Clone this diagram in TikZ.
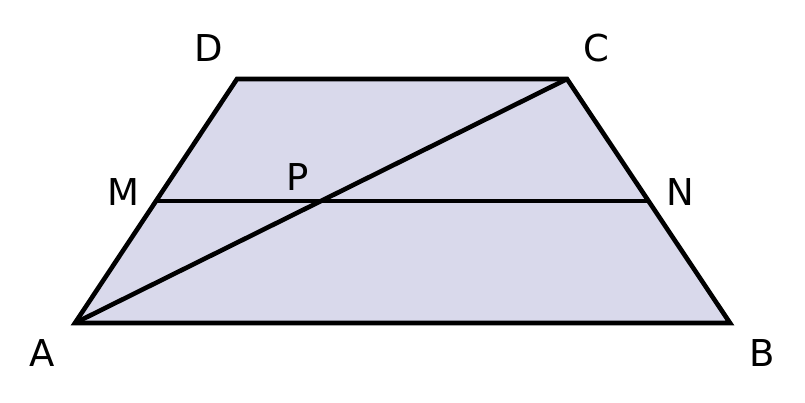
\documentclass[tikz,border=0pt]{standalone}
\usepackage{fontspec}
\setmainfont{DejaVu Sans}
\usetikzlibrary{calc}
\definecolor{trapfill}{RGB}{217,217,235}
\tikzstyle{edge} = [line width=4.6pt, draw=black, line join=miter]
\tikzstyle{lbl} = [font=\fontsize{37}{44}\selectfont, inner sep=0pt]

\begin{document}
\begin{tikzpicture}[x=1pt, y=-1pt]
			\useasboundingbox (0,0) rectangle (805,403);
			\coordinate (A) at (75,323);
			\coordinate (B) at (730,323);
			\coordinate (C) at (567,79);
			\coordinate (D) at (237,79);
			\coordinate (M) at ($(A)!0.5!(D)$);
			\coordinate (N) at ($(B)!0.5!(C)$);
			\coordinate (P) at ($(A)!0.5!(C)$);
			\fill[trapfill] (A) -- (B) -- (C) -- (D) -- cycle;
			\draw[edge] (A) -- (B) -- (C) -- (D) -- cycle;
			\draw[edge] (M) -- (N);
			\draw[edge] (A) -- (C);
			\node[lbl] (lA) at (42,353) {A};
			\node[lbl] (lB) at (762,353) {B};
			\node[lbl] (lC) at (596,48) {C};
			\node[lbl] (lD) at (209,48) {D};
			\node[lbl] (lM) at (123,192) {M};
			\node[lbl] (lN) at (680,192) {N};
			\node[lbl] (lP) at (298,177) {P};
		\end{tikzpicture}
\end{document}
